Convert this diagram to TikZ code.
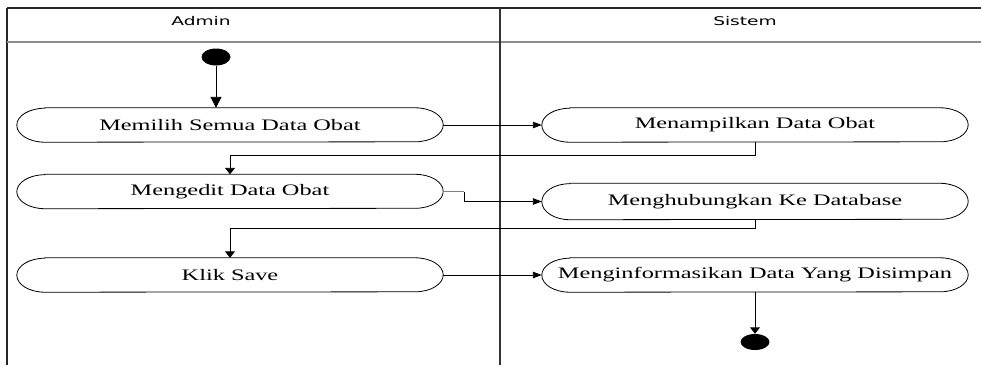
\documentclass[tikz,border=0pt]{standalone}
\usepackage{fontspec}
\usetikzlibrary{arrows.meta,calc,shapes.geometric}
\newfontfamily\nodefont[FakeStretch=1.52]{Liberation Serif}
\newfontfamily\headfont[FakeStretch=1.55]{DejaVu Sans}
\tikzset{
  act/.style={minimum width=426pt, minimum height=34pt, inner sep=0pt, draw=none,
    font=\nodefont\fontsize{16}{18}\selectfont},
  lanehead/.style={anchor=base, inner sep=0pt, font=\headfont\fontsize{12}{14}\selectfont},
  blob/.style={ellipse, fill=black, minimum width=29pt, minimum height=17pt, inner sep=0pt},
  flow/.style={draw=black, line width=0.9pt},
  harr/.style={flow, -{Triangle[length=9pt,width=6.5pt]}},
  varr/.style={flow, -{Triangle[length=6.5pt,width=10pt]}},
  sarr/.style={flow, -{Triangle[length=11pt,width=11pt]}},
  stadium/.style={draw=black, line width=0.8pt}
}
\newcommand{\stad}[2]{%
  \draw[stadium] ([xshift=28pt]#1.north west) -- ([xshift=-28pt]#1.north east)
    arc[start angle=90, end angle=-90, x radius=28pt, y radius=#2pt]
    -- ([xshift=28pt]#1.south west)
    arc[start angle=270, end angle=90, x radius=28pt, y radius=#2pt] -- cycle;}
\begin{document}
\begin{tikzpicture}[x=1pt,y=1pt]
\useasboundingbox (0,0) rectangle (981,-365);
% frame
\draw[line width=1.6pt, black!85] (7,-8) -- (981,-8);
\draw[line width=1.2pt, black!85] (7,-8) -- (7,-365);
\draw[line width=2pt, black!45] (7,-42) -- (981,-42);
\draw[line width=2.6pt, black!80] (500,-8) -- (500,-365);
\node[lanehead] (hA) at (201,-25) {Admin};
\node[lanehead] (hS) at (745,-25) {Sistem};
% activities
\node[act] (n1) at (230,-125) {Memilih Semua Data Obat}; \stad{n1}{17}
\node[act] (n2) at (230,-191.5) {Mengedit Data Obat}; \stad{n2}{17}
\node[act] (n3) at (230,-275) {Klik Save}; \stad{n3}{17}
\node[act] (m1) at (755,-125) {Menampilkan Data Obat}; \stad{m1}{17}
\node[act] (m3) at (755,-275) {Menginformasikan Data Yang Disimpan}; \stad{m3}{17}
\node[act, minimum height=36pt] (m2) at (755,-201.5) {Menghubungkan Ke Database}; \stad{m2}{18}
% start / end
\node[blob] (st) at (216,-57) {};
\node[blob, minimum height=16pt] (en) at (755,-342) {};
% connectors
\draw[sarr] (st.south) -- (st |- n1.north);
\draw[harr] (n1.east) -- (m1.west);
\draw[varr] (m1.south) -- ++(0,-13) -| (n2.north);
\draw[flow, black!50] (n2.east) -- ++(21,0) coordinate (k1);
\draw[harr] (k1) |- (m2.west);
\draw[varr] (m2.south) -- ++(0,-9) -| (n3.north);
\draw[harr] (n3.east) -- (m3.west);
\draw[varr] (m3.south) -- (en.north);
\end{tikzpicture}
\end{document}
